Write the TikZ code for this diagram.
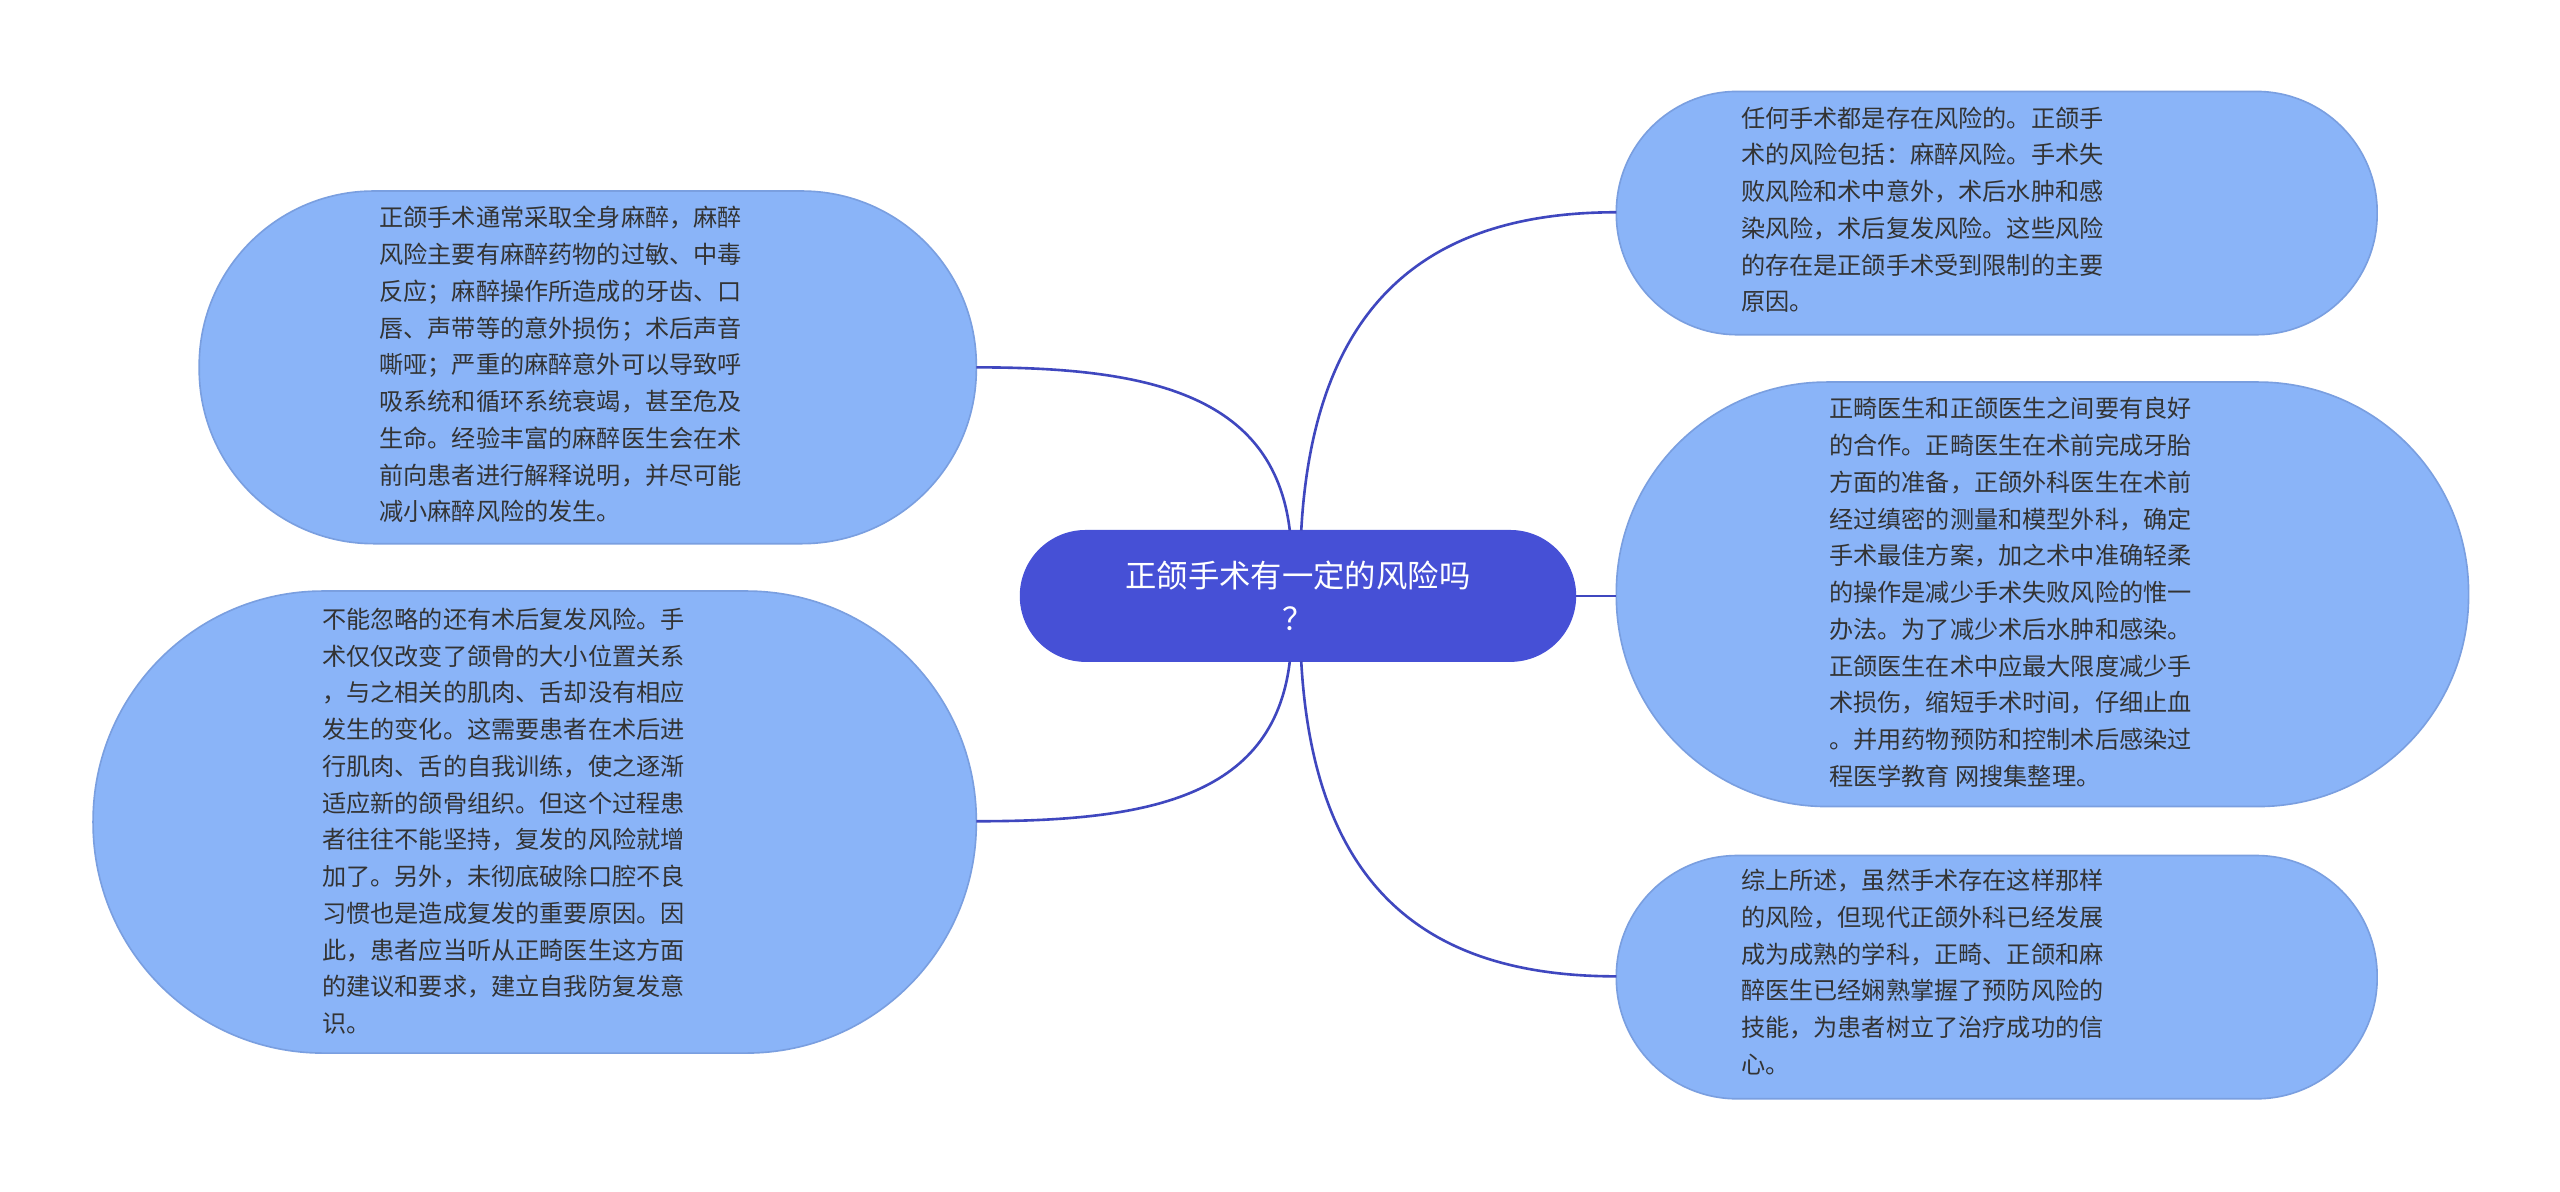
\documentclass[tikz,border=0pt]{standalone}
\usepackage{fontspec}
\setmainfont{Noto Sans CJK SC}
\definecolor{bub}{HTML}{8AB4F8}
\definecolor{bubd}{HTML}{7A9FE0}
\definecolor{ctr}{HTML}{4650D6}
\definecolor{lnk}{HTML}{3F47BF}
\definecolor{txt}{HTML}{333333}
\begin{document}
\begin{tikzpicture}[x=0.5pt,y=-0.5pt,
  txtn/.style={anchor=north west,inner sep=0pt,align=left,text=txt,font=\fontsize{7.4pt}{11.25pt}\selectfont},
  lk/.style={draw=lnk,line width=0.8pt}]
\useasboundingbox (0,0) rectangle (1568,730);
\fill[white] (0,0) rectangle (1568,730);
% bubbles
\newcommand{\bubble}[5]{\draw[fill=bub,draw=bubd,line width=0.5pt,rounded corners=#5] (#1,#2) rectangle (#3,#4);}
\bubble{122}{117}{598}{333}{53.5pt}
\bubble{57}{362}{598}{645}{70.5pt}
\bubble{990}{56}{1456}{205}{37pt}
\bubble{990}{234}{1512}{494}{64.5pt}
\bubble{990}{524}{1456}{673}{37pt}
\coordinate (lt) at (598,225);
\coordinate (lb) at (598,503);
\coordinate (rt) at (990,130);
\coordinate (rm) at (990,365);
\coordinate (rb) at (990,598);
\draw[fill=ctr,draw=ctr,rounded corners=20pt] (625,325) rectangle (965,405);
\node[text=white,align=center,font=\fontsize{9.6pt}{13pt}\selectfont] (c) at (795,365) {正颌手术有一定的风险吗\\？};
\coordinate (ct) at (790,325);
\coordinate (cb) at (790,405);
\coordinate (crt) at (797,325);
\coordinate (crb) at (797,405);
\coordinate (cr) at (965,365);
\draw[lk] (ct) .. controls (780,240) and (700,225) .. (lt);
\draw[lk] (cb) .. controls (780,490) and (700,503) .. (lb);
\draw[lk] (crt) .. controls (805,180) and (880,130) .. (rt);
\draw[lk] (cr) -- (rm);
\draw[lk] (crb) .. controls (805,550) and (880,598) .. (rb);
\node[txtn] (t1) at (232,126) {正颌手术通常采取全身麻醉，麻醉\\风险主要有麻醉药物的过敏、中毒\\反应；麻醉操作所造成的牙齿、口\\唇、声带等的意外损伤；术后声音\\嘶哑；严重的麻醉意外可以导致呼\\吸系统和循环系统衰竭，甚至危及\\生命。经验丰富的麻醉医生会在术\\前向患者进行解释说明，并尽可能\\减小麻醉风险的发生。};
\node[txtn] (t2) at (197,372) {不能忽略的还有术后复发风险。手\\术仅仅改变了颌骨的大小位置关系\\，与之相关的肌肉、舌却没有相应\\发生的变化。这需要患者在术后进\\行肌肉、舌的自我训练，使之逐渐\\适应新的颌骨组织。但这个过程患\\者往往不能坚持，复发的风险就增\\加了。另外，未彻底破除口腔不良\\习惯也是造成复发的重要原因。因\\此，患者应当听从正畸医生这方面\\的建议和要求，建立自我防复发意\\识。};
\node[txtn] (t3) at (1066,65) {任何手术都是存在风险的。正颌手\\术的风险包括：麻醉风险。手术失\\败风险和术中意外，术后水肿和感\\染风险，术后复发风险。这些风险\\的存在是正颌手术受到限制的主要\\原因。};
\node[txtn] (t4) at (1120,243) {正畸医生和正颌医生之间要有良好\\的合作。正畸医生在术前完成牙胎\\方面的准备，正颌外科医生在术前\\经过缜密的测量和模型外科，确定\\手术最佳方案，加之术中准确轻柔\\的操作是减少手术失败风险的惟一\\办法。为了减少术后水肿和感染。\\正颌医生在术中应最大限度减少手\\术损伤，缩短手术时间，仔细止血\\。并用药物预防和控制术后感染过\\程医学教育 网搜集整理。};
\node[txtn] (t5) at (1066,532) {综上所述，虽然手术存在这样那样\\的风险，但现代正颌外科已经发展\\成为成熟的学科，正畸、正颌和麻\\醉医生已经娴熟掌握了预防风险的\\技能，为患者树立了治疗成功的信\\心。};
\end{tikzpicture}
\end{document}
